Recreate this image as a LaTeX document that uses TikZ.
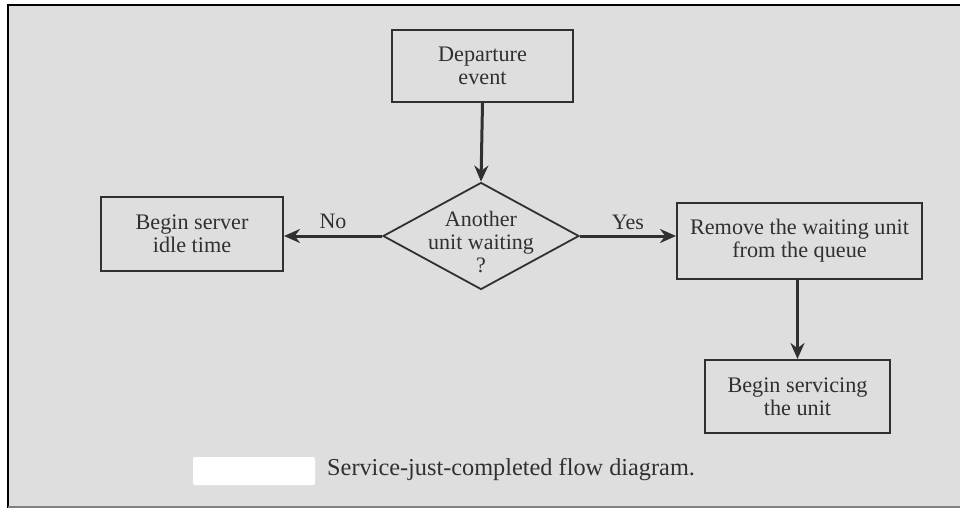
\documentclass[tikz,border=0pt]{standalone}
\usepackage{fontspec}
\setmainfont{Liberation Serif}
\usetikzlibrary{shapes.geometric,arrows.meta}
\definecolor{paper}{HTML}{DEDEDE}
\definecolor{ink}{HTML}{303030}
\begin{document}
\begin{tikzpicture}[x=1pt,y=-1pt,
  box/.style={draw=ink,line width=2pt,inner sep=0pt,text=ink,align=center,
    font=\fontsize{22.2}{23}\selectfont},
  dec/.style={draw=ink,line width=1.8pt,diamond,inner sep=0pt},
  flow/.style={draw=ink,line width=3pt,-{Stealth[length=16pt,width=14pt]}},
  lab/.style={text=ink,font=\fontsize{22}{23}\selectfont,inner sep=0pt}]
\useasboundingbox (0,0) rectangle (960,508);
\fill[white] (0,0) rectangle (960,508);
\fill[paper] (8,5) rectangle (960,506);
\draw[black,line width=2.5pt] (8,508) -- (8,5) -- (960,5);
\draw[gray,line width=2pt] (8,507) -- (960,507);
% nodes
\node[box,minimum width=181pt,minimum height=72pt] (dep) at (482.5,66) {Departure\\event};
\node[dec,minimum width=196pt,minimum height=107pt] (q) at (481,236) {};
\node[lab,align=center] (qt) at (481,242) {Another\\unit waiting\\?};
\node[box,minimum width=182pt,minimum height=74pt] (idle) at (192,234) {Begin server\\idle time};
\node[box,minimum width=245pt,minimum height=76pt] (rem) at (799.5,241) {Remove the waiting unit\\from the queue};
\node[box,minimum width=185pt,minimum height=73pt] (serv) at (797.5,396.5) {Begin servicing\\the unit};
% connectors
\draw[flow] (dep.south) -- (q.north);
\draw[flow] (q.west) -- (q.west -| idle.east) node[lab,midway,above=6pt] (no) {No};
\draw[flow] (q.east) -- (q.east -| rem.west) node[lab,midway,above=5pt] (yes) {Yes};
\draw[flow] (serv.north |- rem.south) -- (serv.north);
% caption
\fill[white,rounded corners=2pt] (193,457) rectangle (315,485);
\node[text=ink,font=\fontsize{24.3}{28}\selectfont,anchor=west,inner sep=0pt] (cap) at (327,470) {Service-just-completed flow diagram.};
\end{tikzpicture}
\end{document}
